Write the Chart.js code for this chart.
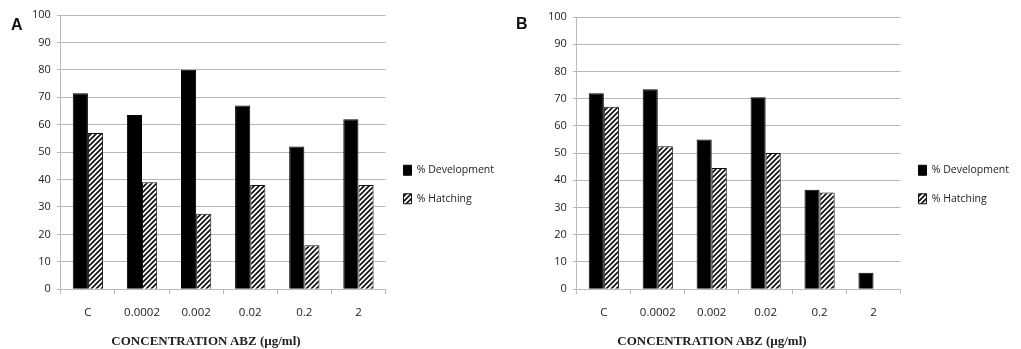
<!DOCTYPE html>
<html>
<head>
<meta charset="utf-8">
<script src="https://cdn.jsdelivr.net/npm/chart.js@4.4.1/dist/chart.umd.min.js"></script>
<style>
  body { margin: 0; background: #fff; }
  #wrap { position: relative; width: 1021px; height: 349px; overflow: hidden; }
  .panel { position: absolute; top: 0; height: 349px; }
  .lbl { position: absolute; font: bold 16px "Liberation Sans", Arial, sans-serif; color: #111; }
  .xt { position: absolute; top: 333px; width: 240px; text-align: center; color: #222;
        font: bold 13px "Liberation Serif", "Times New Roman", serif; }
</style>
</head>
<body>
<div id="wrap">
  <div class="panel" style="left:0;width:504px"><canvas id="chartA"></canvas></div>
  <div class="panel" style="left:505px;width:514px"><canvas id="chartB"></canvas></div>
  <div class="lbl" style="left:11px;top:16px">A</div>
  <div class="lbl" style="left:516px;top:15px">B</div>
  <div class="xt" id="titleA" style="left:86px"></div>
  <div class="xt" id="titleB" style="left:592px"></div>
</div>
<script>
// data
var categories = ['C', '0.0002', '0.002', '0.02', '0.2', '2'];
var devA = [71.5, 63.5, 80, 67, 52, 62];
var hatchA = [57, 39, 27.5, 38, 16, 38];
var devB = [72, 73.5, 55, 70.5, 36.5, 6];
var hatchB = [67, 52.5, 44.5, 50, 35.5, 0];
var seriesNames = ['% Development', '% Hatching'];
var yMax = 100, yStep = 10;
var xTitle = 'CONCENTRATION ABZ (\u00b5g/ml)';

document.getElementById('titleA').textContent = xTitle;
document.getElementById('titleB').textContent = xTitle;

// diagonal hatch fill
function makeHatch() {
    var c = document.createElement('canvas');
    c.width = 5; c.height = 5;
    var g = c.getContext('2d');
    g.fillStyle = '#fff';
    g.fillRect(0, 0, 5, 5);
    g.strokeStyle = '#111';
    g.lineWidth = 1.7;
    g.beginPath();
    g.moveTo(-1, 6); g.lineTo(6, -1);
    g.moveTo(-1, 1); g.lineTo(1, -1);
    g.moveTo(4, 6); g.lineTo(6, 4);
    g.stroke();
    return g.createPattern(c, 'repeat');
}
var hatch = makeHatch();

// push the right-hand legend down a bit
var legendShift = {
    id: 'legendShift',
    afterLayout: function (chart, args, opts) {
        chart.legend.top += opts.dy;
        chart.legend.bottom += opts.dy;
    }
};

var sans = '"Open Sans", "Liberation Sans", sans-serif';

function makeChart(id, dev, hat, pad, dy) {
    var ctx = document.getElementById(id);
    return new Chart(ctx, {
        type: 'bar',
        data: {
            labels: categories,
            datasets: [{
                label: seriesNames[0],
                data: dev,
                backgroundColor: '#000',
                borderColor: '#000',
                borderWidth: 1,
                barPercentage: 1,
                categoryPercentage: 0.56
            }, {
                label: seriesNames[1],
                data: hat,
                backgroundColor: hatch,
                borderColor: '#111',
                borderWidth: 1,
                barPercentage: 1,
                categoryPercentage: 0.56
            }]
        },
        plugins: [legendShift],
        options: {
            responsive: true,
            maintainAspectRatio: false,
            animation: false,
            layout: { padding: pad },
            plugins: {
                tooltip: { enabled: false },
                legendShift: { dy: dy },
                legend: {
                    position: 'right',
                    labels: {
                        boxWidth: 8,
                        boxHeight: 10,
                        padding: 18,
                        color: '#222',
                        font: { family: sans, size: 10.5 }
                    }
                }
            },
            scales: {
                x: {
                    grid: { display: true, drawOnChartArea: false, offset: true, color: '#bbb', tickLength: 5 },
                    border: { color: '#bbb' },
                    ticks: { color: '#222', font: { family: sans, size: 11.5 }, padding: 12 }
                },
                y: {
                    min: 0,
                    max: yMax,
                    ticks: { stepSize: yStep, color: '#222', font: { family: sans, size: 11 }, padding: 6 },
                    grid: { color: '#b8b8b8', tickLength: 4 },
                    border: { color: '#bbb' }
                }
            }
        }
    });
}

var chartA = makeChart('chartA', devA, hatchA, { left: 26, top: 15, right: 0, bottom: 17 }, 11);
var chartB = makeChart('chartB', devB, hatchB, { left: 37, top: 17, right: 0, bottom: 17 }, 10);
</script>
</body>
</html>
